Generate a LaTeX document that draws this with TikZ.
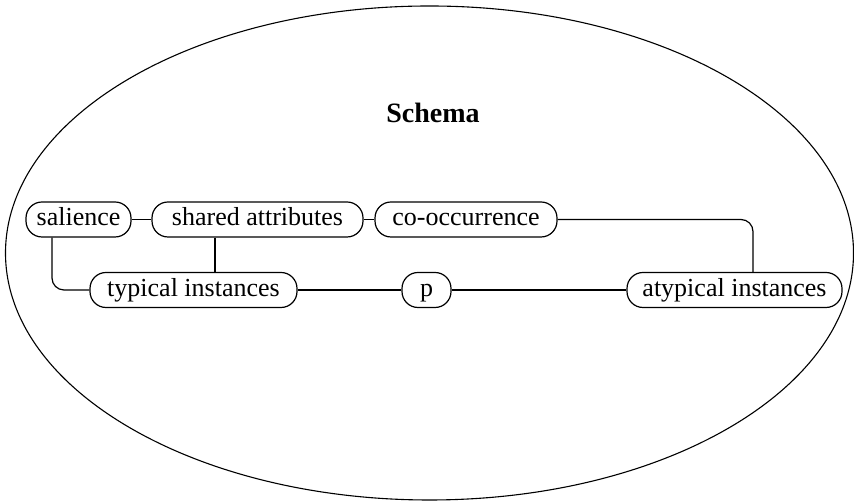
\documentclass[tikz,border=0pt]{standalone}
\usepackage{fontspec}
\setmainfont{Liberation Serif}
\begin{document}
\begin{tikzpicture}[x=1pt,y=1pt,
  box/.style={draw,line width=1.2pt,rounded corners=16pt,minimum height=35pt,inner xsep=2pt,inner ysep=0pt,text height=18pt,text depth=5pt,font=\fontsize{26}{30}\selectfont},
  link/.style={line width=1.2pt}]
\useasboundingbox (0,0) rectangle (854,502);
\draw[line width=1.1pt] (429.5,249) ellipse [x radius=424, y radius=247];
\node[font=\fontsize{28}{32}\selectfont\bfseries] (title) at (433,389) {Schema};
\node[box,minimum width=105pt] (sal) at (78.5,282.5) {salience};
\node[box,minimum width=211pt] (shared) at (257.5,282.5) {shared attributes};
\node[box,minimum width=182pt] (cooc) at (466,282.5) {co-occurrence};
\node[box,minimum width=207pt] (typ) at (193.5,212) {typical instances};
\node[box,minimum width=49pt] (p) at (426.5,212) {p};
\node[box,minimum width=215pt] (atyp) at (734.5,212) {atypical instances};
\draw[link] (sal.east) -- (shared.west);
\draw[link] (shared.east) -- (cooc.west);
\draw[link] (typ.east) -- (p.west);
\draw[link] (p.east) -- (atyp.west);
\draw[link] ([xshift=-42.5pt]shared.south) -- ([xshift=-42.5pt]shared.south |- typ.north);
\draw[link,rounded corners=12pt] ([xshift=-26.5pt]sal.south) |- (typ.west);
\draw[link,rounded corners=12pt] (cooc.east) -| ([xshift=18.5pt]atyp.north);
\end{tikzpicture}
\end{document}
